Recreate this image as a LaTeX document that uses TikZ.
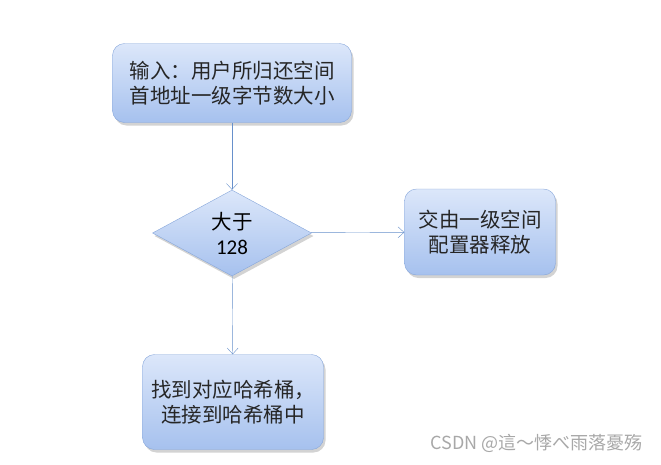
\documentclass[tikz,border=0pt]{standalone}
\usepackage{fontspec}
\setmainfont{Carlito}
\newfontfamily\cjk{Noto Sans CJK SC}
\usetikzlibrary{shapes.geometric,shadows,arrows.meta}

\definecolor{boxtop}{HTML}{DCE7FA}
\definecolor{boxbot}{HTML}{A6C1EE}
\definecolor{boxline}{HTML}{86A6DA}
\definecolor{arrowline}{HTML}{6790CB}
\definecolor{marktext}{HTML}{A8A8A8}

\begin{document}
\begin{tikzpicture}[x=1pt, y=-1pt,
        flowbox/.style={draw=boxline, rounded corners=12pt, top color=boxtop, bottom color=boxbot,
                drop shadow={shadow xshift=2pt, shadow yshift=-3pt, opacity=.35},
                align=center, inner sep=0pt, font=\cjk\fontsize{20.5}{25}\selectfont, text=black!85},
        testbox/.style={diamond, draw=boxline, top color=boxtop, bottom color=boxbot,
                drop shadow={shadow xshift=2pt, shadow yshift=-3pt, opacity=.35},
                minimum width=159pt, minimum height=86pt, inner sep=0pt, align=center,
                font=\fontsize{21}{25}\selectfont, text=black}]
        \useasboundingbox (0,0) rectangle (661,464);
        \begin{scope}[every node/.style={flowbox}]
                \node[minimum width=239pt, minimum height=79pt] (Input) at (232,83) {输入：用户所归还空间\\首地址一级字节数大小};
                \node[minimum width=151pt, minimum height=86pt] (First) at (480,232) {交由一级空间\\配置器释放};
                \node[minimum width=181pt, minimum height=95pt] (Bucket) at (233,402) {找到对应哈希桶，\\连接到哈希桶中};
        \end{scope}
        \node[testbox] (Big) at (232,233) {{\cjk\fontsize{20.5}{25}\selectfont 大于}\\128};
        \node[anchor=east, text=marktext, font=\cjk\fontsize{18}{20}\selectfont] (Mark) at (646,443) {CSDN @這～悸べ雨落憂殇};
        \begin{scope}[every path/.style={draw=arrowline, thin, -{Straight Barb[length=6pt, width=11pt]}}]
                \path (Input) edge (Big);
                \path (Big) edge (First);
                \path (Big) edge (Bucket);
        \end{scope}
\end{tikzpicture}
\end{document}
